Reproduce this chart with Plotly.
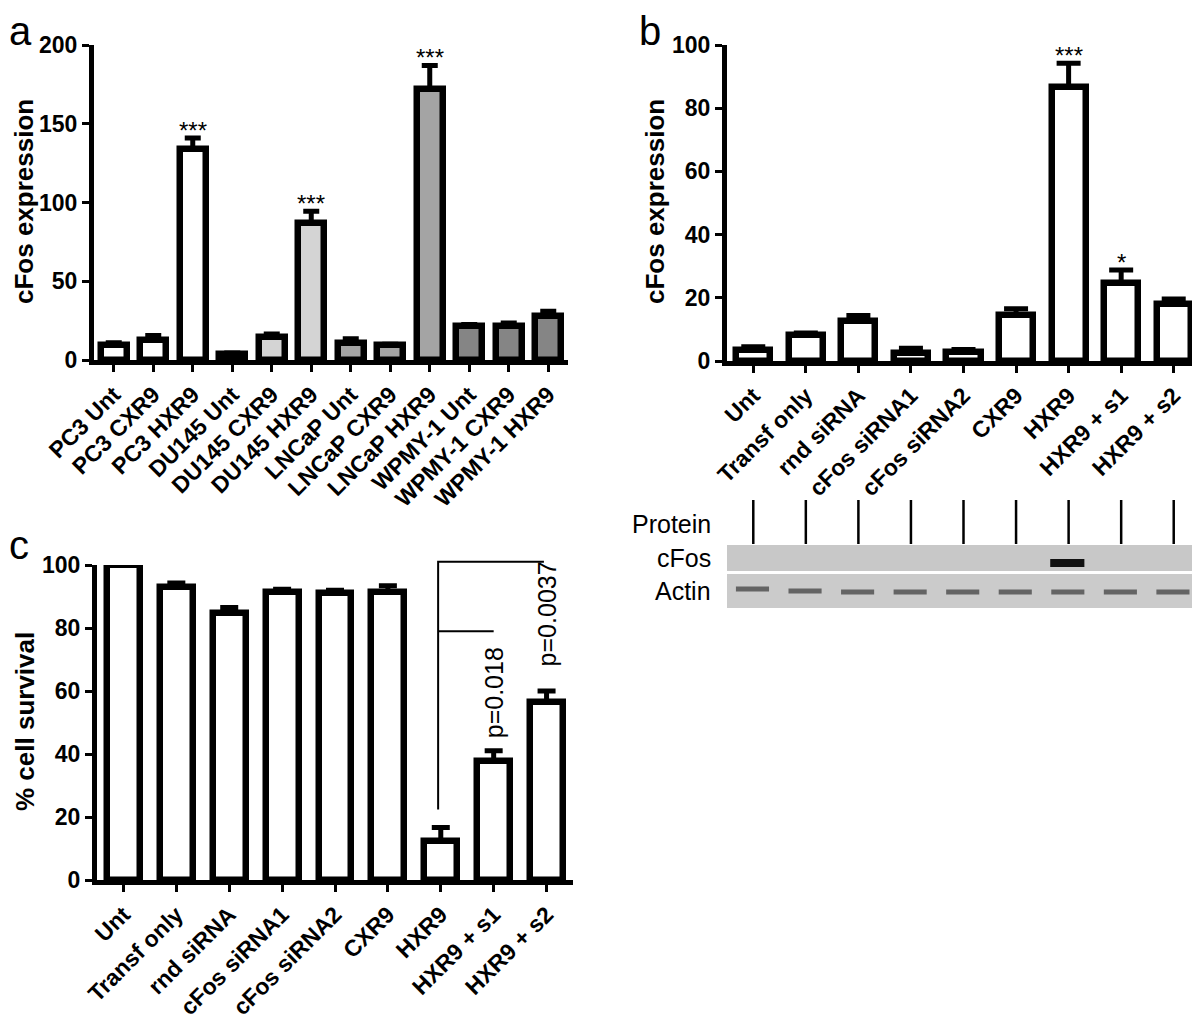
import plotly.graph_objects as go

# page body has an 8 px margin; the figure is shifted so that it lines up with the reference
OFF = 8
W, H = 1200 - OFF, 1021 - OFF

# ---------------- data ----------------
a_cats = ["PC3 Unt", "PC3 CXR9", "PC3 HXR9", "DU145 Unt", "DU145 CXR9", "DU145 HXR9",
          "LNCaP Unt", "LNCaP CXR9", "LNCaP HXR9", "WPMY-1 Unt", "WPMY-1 CXR9", "WPMY-1 HXR9"]
a_vals = [9.5, 13, 134, 3.5, 14.5, 87, 10.5, 9.5, 172, 21.5, 21.5, 28]
a_err = [1.5, 2.5, 7, 1, 2, 7.5, 3, 0.5, 15, 1, 2, 3]
a_fill = ["#ffffff"] * 3 + ["#d4d4d4"] * 3 + ["#a4a4a4"] * 3 + ["#858585"] * 3
a_sig = {2: "***", 5: "***", 8: "***"}
a_yticks = [0, 50, 100, 150, 200]

b_cats = ["Unt", "Transf only", "rnd siRNA", "cFos siRNA1", "cFos siRNA2",
          "CXR9", "HXR9", "HXR9 + s1", "HXR9 + s2"]
b_vals = [3.5, 8.3, 12.6, 2.5, 3, 14.7, 86.7, 24.8, 18]
b_err = [1, 0.6, 1.8, 1.5, 0.6, 1.8, 7.5, 4, 1.6]
b_sig = {6: "***", 7: "*"}
b_yticks = [0, 20, 40, 60, 80, 100]

c_cats = b_cats
c_vals = [100, 93, 84.7, 91.5, 91.2, 91.5, 12.4, 37.8, 56.6]
c_err = [0.3, 1.3, 1.8, 0.8, 0.8, 1.9, 4.3, 3.2, 3.4]
c_yticks = [0, 20, 40, 60, 80, 100]
c_pvals = [("p=0.018", 7, 59.5), ("p=0.0037", 8, 84.5)]
c_bracket_top = 101
c_bracket_low = 79
c_bracket_bottom = 22.4

blot_rows = ["Protein", "cFos", "Actin"]
actin_level = [19, 17, 16, 16, 16, 16, 16, 16, 16]
cfos_band_lanes = [6]

# ---------------- helpers ----------------
def px(x):
    return (x - OFF) / W

def py(y):
    return 1 - (y - OFF) / H

BLACK = "black"
FONT = "Liberation Sans"

def xaxis_cfg(dom, n, cats, anchor):
    return dict(domain=dom, anchor=anchor, range=[-0.5, n - 0.5], automargin=False,
                tickvals=list(range(n)), ticktext=cats, tickangle=-45,
                showline=True, linewidth=5, linecolor=BLACK, ticks="outside",
                ticklen=7, tickwidth=3, tickcolor=BLACK, showgrid=False, zeroline=False,
                tickfont=dict(family=FONT, size=23, color=BLACK, weight="bold"))

def yaxis_cfg(dom, rng, tv, anchor):
    return dict(domain=dom, anchor=anchor, range=rng, tickvals=tv, automargin=False,
                showline=True, linewidth=5, linecolor=BLACK, ticks="outside",
                ticklen=7, tickwidth=3, tickcolor=BLACK, showgrid=False, zeroline=False,
                tickfont=dict(family=FONT, size=23, color=BLACK, weight="bold"))

fig = go.Figure()

def add_bars(vals, err, fill, xa, ya, width, capw):
    n = len(vals)
    fig.add_trace(go.Bar(
        x=list(range(n)), y=vals, xaxis=xa, yaxis=ya, width=width,
        marker=dict(color=fill, line=dict(color=BLACK, width=6.5)),
        error_y=dict(type="data", symmetric=False, array=err, arrayminus=[0] * n,
                     color=BLACK, thickness=5, width=capw),
        cliponaxis=False, showlegend=False))

add_bars(a_vals, a_err, a_fill, "x", "y", 0.66, 8)
add_bars(b_vals, b_err, ["#ffffff"] * len(b_vals), "x2", "y2", 0.65, 12)
add_bars(c_vals, c_err, ["#ffffff"] * len(c_vals), "x3", "y3", 0.62, 9)

# significance brackets panel c (on an invisible overlay with identical scale but taller box)
fig.add_trace(go.Scatter(
    x=[5.95, 5.95, 7.95, None, 5.95, 7.0],
    y=[c_bracket_bottom, c_bracket_top, c_bracket_top, None, c_bracket_low, c_bracket_low],
    xaxis="x5", yaxis="y5", mode="lines", line=dict(color=BLACK, width=2),
    showlegend=False, hoverinfo="skip"))

# ---------------- blot ----------------
nb = len(b_cats)
lx, ly = [], []
for i in range(nb):
    lx += [i, i, None]
    ly += [64, 108, None]
fig.add_trace(go.Scatter(x=lx, y=ly, xaxis="x4", yaxis="y4", mode="lines",
                         line=dict(color=BLACK, width=2.5), showlegend=False,
                         hoverinfo="skip"))
ax_, ay_ = [], []
for i, lv in enumerate(actin_level):
    ax_ += [i - 0.33, i + 0.3, None]
    ay_ += [lv, lv, None]
fig.add_trace(go.Scatter(x=ax_, y=ay_, xaxis="x4", yaxis="y4", mode="lines",
                         line=dict(color="#646464", width=5), showlegend=False,
                         hoverinfo="skip"))
cx_, cy_ = [], []
for i in cfos_band_lanes:
    cx_ += [i - 0.35, i + 0.3, None]
    cy_ += [45, 45, None]
fig.add_trace(go.Scatter(x=cx_, y=cy_, xaxis="x4", yaxis="y4", mode="lines",
                         line=dict(color="#111111", width=8), showlegend=False,
                         hoverinfo="skip"))

shapes = [
    dict(type="rect", xref="paper", yref="y4", x0=px(727), x1=px(1199), y0=37, y1=63,
         fillcolor="#c8c8c8", line=dict(width=0), layer="below"),
    dict(type="rect", xref="paper", yref="y4", x0=px(727), x1=px(1199), y0=0, y1=34,
         fillcolor="#cbcbcb", line=dict(width=0), layer="below"),
]

c_top_px = 565
c_zero_px = 880
over_top_px = 550
over_max = 100 * (c_zero_px - over_top_px) / (c_zero_px - c_top_px)

# ---------------- layout ----------------
fig.update_layout(
    width=W, height=H, margin=dict(l=0, r=0, t=0, b=0, pad=0, autoexpand=False),
    paper_bgcolor="white", plot_bgcolor="rgba(0,0,0,0)", bargap=0,
    xaxis=xaxis_cfg([px(94), px(568)], len(a_cats), a_cats, "y"),
    yaxis=yaxis_cfg([py(360), py(45)], [0, 200], a_yticks, "x"),
    xaxis2=xaxis_cfg([px(727), 1.0], len(b_cats), b_cats, "y2"),
    yaxis2=yaxis_cfg([py(361), py(45)], [0, 100], b_yticks, "x2"),
    xaxis3=xaxis_cfg([px(97), px(573)], len(c_cats), c_cats, "y3"),
    yaxis3=yaxis_cfg([py(c_zero_px), py(c_top_px)], [0, 100], c_yticks, "x3"),
    xaxis4=dict(domain=[px(727), 1.0], anchor="y4", range=[-0.5, nb - 0.5], visible=False),
    yaxis4=dict(domain=[py(608), py(500)], anchor="x4", range=[0, 108], visible=False),
    xaxis5=dict(domain=[px(97), px(573)], anchor="y5", range=[-0.5, len(c_cats) - 0.5], visible=False),
    yaxis5=dict(domain=[py(c_zero_px), py(over_top_px)], anchor="x5", range=[0, over_max], visible=False),
    shapes=shapes,
)

ann = []
def txt(text, x, y, size, bold=False, angle=0, xanchor="center", yanchor="middle"):
    f = dict(family=FONT, size=size, color=BLACK)
    if bold:
        f["weight"] = "bold"
    ann.append(dict(text=text, x=px(x), y=py(y), xref="paper", yref="paper",
                    showarrow=False, font=f, textangle=angle, borderpad=0,
                    xanchor=xanchor, yanchor=yanchor))

# panel letters (kept inside the figure box)
txt("a", 8, 8, 40, xanchor="left", yanchor="top")
txt("b", 638, 8, 40, xanchor="left", yanchor="top")
txt("c", 8, 545, 40, xanchor="left")
# axis titles
txt("cFos expression", 24, 202, 26, bold=True, angle=-90)
txt("cFos expression", 655, 202, 26, bold=True, angle=-90)
txt("% cell survival", 25, 722, 26, bold=True, angle=-90)
# blot labels
txt("Protein", 712, 524, 25, xanchor="right")
txt("cFos", 712, 558, 25, xanchor="right")
txt("Actin", 712, 591, 25, xanchor="right")

# significance stars
for i, s in a_sig.items():
    ann.append(dict(text=s, x=i, y=a_vals[i] + a_err[i], xref="x", yref="y", showarrow=False,
                    yanchor="bottom", yshift=-8, font=dict(family=FONT, size=24, color=BLACK)))
for i, s in b_sig.items():
    ann.append(dict(text=s, x=i, y=b_vals[i] + b_err[i], xref="x2", yref="y2", showarrow=False,
                    yanchor="bottom", yshift=-8, font=dict(family=FONT, size=24, color=BLACK)))
# p-values
for t, i, yv in c_pvals:
    ann.append(dict(text=t, x=i, y=yv, xref="x3", yref="y3", showarrow=False,
                    textangle=-90, font=dict(family=FONT, size=25, color=BLACK)))

fig.update_layout(annotations=ann)
fig.write_html("out.html")
